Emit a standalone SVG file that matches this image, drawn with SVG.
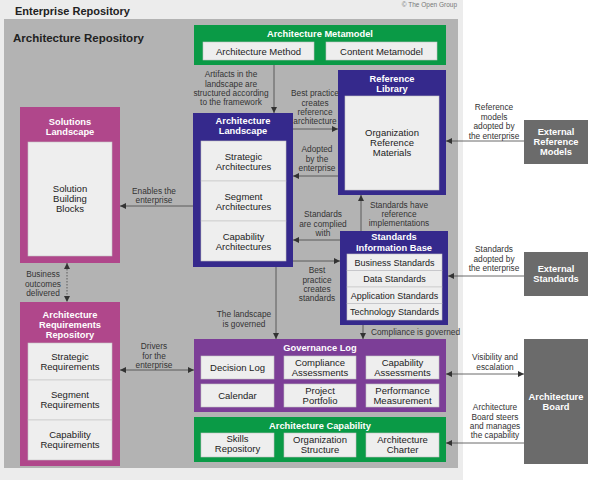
<svg xmlns="http://www.w3.org/2000/svg" width="598" height="480" viewBox="0 0 598 480">
<defs>
<marker id="ah" markerUnits="userSpaceOnUse" markerWidth="7" markerHeight="7" refX="6" refY="3" orient="auto-start-reverse"><path d="M0,0 L6,3 L0,6 z" fill="#333"/></marker>
<style>
text{font-family:"Liberation Sans",Arial,sans-serif}
.ann{font-size:8.3px;fill:#333;text-anchor:middle}
.st{text-anchor:start}
.bx{font-size:9.5px;fill:#222;text-anchor:middle}
.sb{font-size:9px;fill:#222;text-anchor:middle}
.tt{font-size:9.3px;font-weight:bold;fill:#fff;text-anchor:middle}
.in{fill:#eeeeee;stroke:#c4c4c4;stroke-width:0.6}
.green{fill:#0a9a46}
.navy{fill:#35298c}
.purp{fill:#7c3e97}
.mag{fill:#b0478b}
.ext{fill:#6b6b6b}
.cn{stroke:#444;stroke-width:0.8;fill:none}
</style>
</defs>
<rect x="0" y="0" width="598" height="480" fill="#fff"/>
<g id="enterprise-repository">
<rect x="0" y="0" width="463" height="480" fill="#ececec"/>
<text x="15" y="15" font-size="11px" font-weight="bold" fill="#222">Enterprise Repository</text>
<text x="457" y="7" font-size="6.5px" fill="#777" text-anchor="end">© The Open Group</text>
</g>
<g id="architecture-repository">
<rect x="4" y="19" width="454" height="449" fill="#b3b3b3"/>
<text x="13" y="42" font-size="11.5px" font-weight="bold" fill="#222">Architecture Repository</text>
</g>
<g id="architecture-metamodel">
<rect class="green" x="194" y="25" width="252" height="40"/>
<text class="tt" x="320" y="37">Architecture Metamodel</text>
<rect class="in" x="203" y="42" width="111" height="18"/>
<text class="bx" x="258.5" y="54.5">Architecture Method</text>
<rect class="in" x="326" y="42" width="111" height="18"/>
<text class="bx" x="381.5" y="54.5">Content Metamodel</text>
</g>
<g id="architecture-landscape">
<rect class="navy" x="193" y="113" width="100" height="154"/>
<text class="tt" x="243" y="124">Architecture</text>
<text class="tt" x="243" y="134">Landscape</text>
<rect class="in" x="201" y="141" width="85" height="40"/>
<rect class="in" x="201" y="181" width="85" height="40"/>
<rect class="in" x="201" y="221" width="85" height="40"/>
<text class="bx" x="243.5" y="160">Strategic</text><text class="bx" x="243.5" y="170">Architectures</text>
<text class="bx" x="243.5" y="200">Segment</text><text class="bx" x="243.5" y="210">Architectures</text>
<text class="bx" x="243.5" y="240">Capability</text><text class="bx" x="243.5" y="250">Architectures</text>
</g>
<g id="reference-library">
<rect class="navy" x="338" y="70" width="108" height="125"/>
<text class="tt" x="392" y="82">Reference</text>
<text class="tt" x="392" y="92">Library</text>
<rect class="in" x="345" y="96" width="94" height="94"/>
<text class="bx" x="392" y="136">Organization</text>
<text class="bx" x="392" y="146">Reference</text>
<text class="bx" x="392" y="156">Materials</text>
</g>
<g id="standards-information-base">
<rect class="navy" x="340" y="231" width="108" height="94"/>
<text class="tt" x="394" y="240">Standards</text>
<text class="tt" x="394" y="251">Information Base</text>
<rect class="in" x="347" y="254" width="95" height="16.5"/>
<rect class="in" x="347" y="270.5" width="95" height="16.5"/>
<rect class="in" x="347" y="287" width="95" height="16.5"/>
<rect class="in" x="347" y="303.5" width="95" height="16.5"/>
<text class="sb" x="394.5" y="265.5">Business Standards</text>
<text class="sb" x="394.5" y="282">Data Standards</text>
<text class="sb" x="394.5" y="298.5">Application Standards</text>
<text class="sb" x="394.5" y="315">Technology Standards</text>
</g>
<g id="solutions-landscape">
<rect class="mag" x="20" y="107" width="100" height="156"/>
<text class="tt" x="70" y="125">Solutions</text>
<text class="tt" x="70" y="135">Landscape</text>
<rect class="in" x="28" y="142" width="84" height="114"/>
<text class="bx" x="70" y="192">Solution</text>
<text class="bx" x="70" y="202">Building</text>
<text class="bx" x="70" y="212">Blocks</text>
</g>
<g id="architecture-requirements-repository">
<rect class="mag" x="20" y="302" width="100" height="164"/>
<text class="tt" x="70" y="318">Architecture</text>
<text class="tt" x="70" y="328">Requirements</text>
<text class="tt" x="70" y="338">Repository</text>
<rect class="in" x="28" y="343" width="84" height="37"/>
<rect class="in" x="28" y="380" width="84" height="40"/>
<rect class="in" x="28" y="420" width="84" height="40"/>
<text class="bx" x="70" y="360">Strategic</text><text class="bx" x="70" y="370">Requirements</text>
<text class="bx" x="70" y="398">Segment</text><text class="bx" x="70" y="408">Requirements</text>
<text class="bx" x="70" y="438">Capability</text><text class="bx" x="70" y="448">Requirements</text>
</g>
<g id="governance-log">
<rect class="purp" x="194" y="339" width="252" height="73"/>
<text class="tt" x="320" y="351">Governance Log</text>
<rect class="in" x="201" y="356" width="73" height="23"/>
<rect class="in" x="284" y="356" width="72" height="23"/>
<rect class="in" x="366" y="356" width="73" height="23"/>
<rect class="in" x="201" y="384" width="73" height="23"/>
<rect class="in" x="284" y="384" width="72" height="23"/>
<rect class="in" x="366" y="384" width="73" height="23"/>
<text class="bx" x="237.5" y="371">Decision Log</text>
<text class="bx" x="320" y="366">Compliance</text><text class="bx" x="320" y="376">Assessments</text>
<text class="bx" x="402.5" y="366">Capability</text><text class="bx" x="402.5" y="376">Assessments</text>
<text class="bx" x="237.5" y="399">Calendar</text>
<text class="bx" x="320" y="394">Project</text><text class="bx" x="320" y="404">Portfolio</text>
<text class="bx" x="402.5" y="394">Performance</text><text class="bx" x="402.5" y="404">Measurement</text>
</g>
<g id="architecture-capability">
<rect class="green" x="194" y="417" width="252" height="45"/>
<text class="tt" x="320" y="429">Architecture Capability</text>
<rect class="in" x="201" y="433" width="73" height="24"/>
<rect class="in" x="284" y="433" width="72" height="24"/>
<rect class="in" x="366" y="433" width="73" height="24"/>
<text class="bx" x="237.5" y="442">Skills</text><text class="bx" x="237.5" y="452">Repository</text>
<text class="bx" x="320" y="443">Organization</text><text class="bx" x="320" y="453">Structure</text>
<text class="bx" x="402.5" y="443">Architecture</text><text class="bx" x="402.5" y="453">Charter</text>
</g>
<g id="external-reference-models">
<rect class="ext" x="524" y="120" width="64" height="44"/>
<text class="tt" x="556" y="135">External</text>
<text class="tt" x="556" y="145">Reference</text>
<text class="tt" x="556" y="155">Models</text>
</g>
<g id="external-standards">
<rect class="ext" x="524" y="252" width="64" height="44"/>
<text class="tt" x="556" y="272">External</text>
<text class="tt" x="556" y="282">Standards</text>
</g>
<g id="architecture-board">
<rect class="ext" x="524" y="339" width="64" height="125"/>
<text class="tt" x="556" y="400">Architecture</text>
<text class="tt" x="556" y="410">Board</text>
</g>
<g id="connectors">
<path class="cn" d="M274,65 V113" marker-end="url(#ah)"/>
<path class="cn" d="M293,129 H338" marker-end="url(#ah)"/>
<path class="cn" d="M338,176 H293" marker-end="url(#ah)"/>
<path class="cn" d="M361,231 V195" marker-end="url(#ah)"/>
<path class="cn" d="M340,240 H293" marker-end="url(#ah)"/>
<path class="cn" d="M293,261 H340" marker-end="url(#ah)"/>
<path class="cn" d="M524,141 H446" marker-end="url(#ah)"/>
<path class="cn" d="M524,276 H448" marker-end="url(#ah)"/>
<path class="cn" d="M193,206 H120" marker-end="url(#ah)"/>
<path class="cn" d="M67,263 V302" stroke-dasharray="1.5,1.5" marker-start="url(#ah)" marker-end="url(#ah)"/>
<path class="cn" d="M120,370 H194" marker-start="url(#ah)" marker-end="url(#ah)"/>
<path class="cn" d="M276,267 V339" marker-end="url(#ah)"/>
<path class="cn" d="M363,325 V339" marker-end="url(#ah)"/>
<path class="cn" d="M446,374 H524" marker-start="url(#ah)" marker-end="url(#ah)"/>
<path class="cn" d="M524,443 H446" marker-end="url(#ah)"/>
<text class="ann" x="231" y="77">Artifacts in the</text>
<text class="ann" x="231" y="87">landscape are</text>
<text class="ann" x="231" y="96">structured according</text>
<text class="ann" x="231" y="105">to the framework</text>
<text class="ann" x="315" y="96">Best practice</text>
<text class="ann" x="315" y="106">creates</text>
<text class="ann" x="315" y="115">reference</text>
<text class="ann" x="315" y="124">architecture</text>
<text class="ann" x="317" y="152">Adopted</text>
<text class="ann" x="317" y="162">by the</text>
<text class="ann" x="317" y="171">enterprise</text>
<text class="ann" x="399" y="208">Standards have</text>
<text class="ann" x="399" y="217">reference</text>
<text class="ann" x="399" y="226">implementations</text>
<text class="ann" x="323" y="217">Standards</text>
<text class="ann" x="323" y="227">are complied</text>
<text class="ann" x="323" y="236">with</text>
<text class="ann" x="317" y="273">Best</text>
<text class="ann" x="317" y="283">practice</text>
<text class="ann" x="317" y="292">creates</text>
<text class="ann" x="317" y="301">standards</text>
<text class="ann st" x="371" y="335">Compliance is governed</text>
<text class="ann" x="244" y="317">The landscape</text>
<text class="ann" x="244" y="327">is governed</text>
<text class="ann" x="154" y="194">Enables the</text>
<text class="ann" x="154" y="203">enterprise</text>
<text class="ann" x="43" y="277">Business</text>
<text class="ann" x="43" y="287">outcomes</text>
<text class="ann" x="43" y="296">delivered</text>
<text class="ann" x="154" y="349">Drivers</text>
<text class="ann" x="154" y="359">for the</text>
<text class="ann" x="154" y="368">enterprise</text>
<text class="ann" x="494" y="110">Reference</text>
<text class="ann" x="494" y="120">models</text>
<text class="ann" x="494" y="129">adopted by</text>
<text class="ann" x="494" y="139">the enterprise</text>
<text class="ann" x="494" y="252">Standards</text>
<text class="ann" x="494" y="262">adopted by</text>
<text class="ann" x="494" y="271">the enterprise</text>
<text class="ann" x="495" y="360">Visibility and</text>
<text class="ann" x="495" y="370">escalation</text>
<text class="ann" x="495" y="410">Architecture</text>
<text class="ann" x="495" y="420">Board steers</text>
<text class="ann" x="495" y="429">and manages</text>
<text class="ann" x="495" y="438">the capability</text>
</g>
</svg>
